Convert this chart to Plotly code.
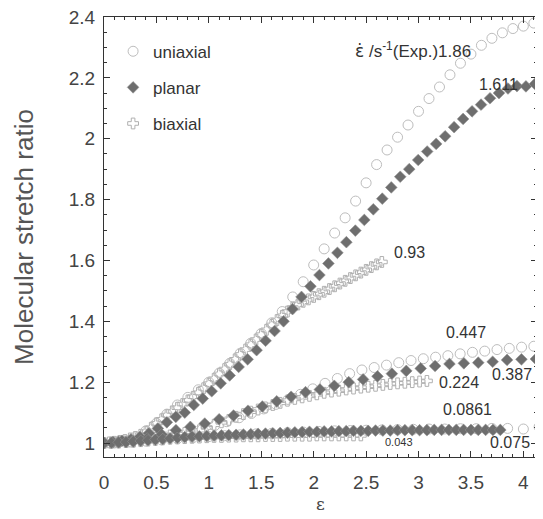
import plotly.graph_objects as go

# ---------------- data ----------------
# uniaxial (open circles)
uni_186_step = 0.1
uni_186_y = [1.000, 1.004, 1.010, 1.020, 1.040, 1.065, 1.095, 1.125, 1.150, 1.175,
             1.200, 1.230, 1.262, 1.295, 1.328, 1.360, 1.395, 1.432, 1.480, 1.530,
             1.585, 1.638, 1.690, 1.740, 1.795, 1.855, 1.915, 1.963, 2.005, 2.045,
             2.090, 2.132, 2.170, 2.210, 2.248, 2.278, 2.307, 2.330, 2.348, 2.362,
             2.370, 2.380]
uni_0447_step = 4.1 / 35
uni_0447_y = [1.000, 1.002, 1.005, 1.009, 1.014, 1.020, 1.027, 1.035, 1.045, 1.057,
              1.070, 1.083, 1.097, 1.112, 1.127, 1.143, 1.160, 1.178, 1.196, 1.212,
              1.228, 1.240, 1.248, 1.256, 1.264, 1.271, 1.277, 1.282, 1.287, 1.293,
              1.298, 1.302, 1.307, 1.311, 1.315, 1.318]
uni_00861_x0 = 0.1
uni_00861_step = 0.15
uni_00861_y = [1.000, 1.003, 1.006, 1.010, 1.014, 1.018, 1.021, 1.024, 1.027, 1.030,
               1.032, 1.034, 1.036, 1.038, 1.040, 1.041, 1.042, 1.043, 1.044, 1.045,
               1.046, 1.046, 1.047, 1.047, 1.048, 1.048, 1.046, 1.053]

# planar (filled diamonds)
pla_1611_step = 4.11 / 48
pla_1611_y = [1.000, 1.003, 1.007, 1.012, 1.020, 1.032, 1.048, 1.068, 1.086, 1.100,
              1.125, 1.146, 1.170, 1.196, 1.222, 1.250, 1.275, 1.305, 1.336, 1.368,
              1.400, 1.440, 1.480, 1.515, 1.552, 1.590, 1.625, 1.660, 1.698, 1.733,
              1.768, 1.803, 1.840, 1.875, 1.900, 1.930, 1.958, 1.983, 2.008, 2.038,
              2.065, 2.090, 2.112, 2.133, 2.150, 2.165, 2.173, 2.172, 2.180]
pla_0387_step = 4.119 / 30
pla_0387_y = [1.000, 1.003, 1.007, 1.015, 1.028, 1.042, 1.053, 1.064, 1.078, 1.090,
              1.106, 1.120, 1.137, 1.152, 1.167, 1.176, 1.188, 1.200, 1.209, 1.219,
              1.228, 1.237, 1.245, 1.253, 1.260, 1.262, 1.264, 1.267, 1.273, 1.275,
              1.276]
pla_0075_step = 0.07
pla_0075_y = [1.000, 1.001, 1.002, 1.003, 1.005, 1.007, 1.009, 1.011, 1.013, 1.015,
              1.017, 1.019, 1.021, 1.022, 1.023, 1.024, 1.025, 1.026, 1.027, 1.028,
              1.029, 1.030, 1.031, 1.032, 1.033, 1.034, 1.035, 1.036, 1.037, 1.037,
              1.038, 1.038, 1.039, 1.039, 1.040, 1.040, 1.040, 1.041, 1.041, 1.041,
              1.042, 1.042, 1.042, 1.042, 1.042, 1.043, 1.043, 1.043, 1.043, 1.043,
              1.043, 1.043, 1.043, 1.043, 1.043]

# biaxial (open crosses)
bia_093_step = 0.05
bia_093_y = [1.000, 1.002, 1.004, 1.007, 1.010, 1.015, 1.020, 1.027, 1.037, 1.050,
             1.065, 1.078, 1.092, 1.104, 1.116, 1.128, 1.140, 1.152, 1.165, 1.180,
             1.195, 1.211, 1.227, 1.243, 1.259, 1.275, 1.291, 1.307, 1.323, 1.340,
             1.356, 1.372, 1.388, 1.404, 1.418, 1.432, 1.445, 1.455, 1.464, 1.472,
             1.480, 1.489, 1.497, 1.506, 1.515, 1.524, 1.533, 1.542, 1.551, 1.560,
             1.569, 1.578, 1.587, 1.595]
bia_0224_step = 0.07
bia_0224_y = [1.000, 1.001, 1.002, 1.004, 1.006, 1.009, 1.013, 1.017, 1.021, 1.025,
              1.029, 1.033, 1.037, 1.042, 1.051, 1.060, 1.068, 1.076, 1.086, 1.095,
              1.103, 1.110, 1.117, 1.125, 1.132, 1.139, 1.145, 1.150, 1.155, 1.160,
              1.165, 1.169, 1.172, 1.176, 1.179, 1.182, 1.185, 1.188, 1.191, 1.194,
              1.196, 1.198, 1.200, 1.202, 1.204]
bia_0043_step = 0.07
bia_0043_y = [1.000, 1.001, 1.002, 1.003, 1.004, 1.006, 1.008, 1.010, 1.012, 1.014,
              1.015, 1.016, 1.017, 1.018, 1.019, 1.020, 1.020, 1.021, 1.021, 1.022,
              1.022, 1.022, 1.023, 1.023, 1.023, 1.024, 1.024, 1.024, 1.024, 1.025,
              1.025, 1.025, 1.025, 1.025, 1.025, 1.025]

labels = ["1.86", "1.611", "0.93", "0.447", "0.224", "0.387", "0.0861", "0.043", "0.075"]
label_x = [2.378, 3.56, 2.75, 3.24, 3.18, 3.686, 3.21, 2.665, 3.66]
label_y = [2.293, 2.178, 1.625, 1.362, 1.200, 1.224, 1.109, 1.003, 1.003]

x_ticks = [0, 0.5, 1, 1.5, 2, 2.5, 3, 3.5, 4]
x_ticktext = ["0", "0.5", "1", "1.5", "2", "2.5", "3", "3.5", "4"]
y_ticks = [1, 1.2, 1.4, 1.6, 1.8, 2, 2.2, 2.4]
y_ticktext = ["1", "1.2", "1.4", "1.6", "1.8", "2", "2.2", "2.4"]


def grid(y, step, x0=0.0):
    return [round(x0 + i * step, 4) for i in range(len(y))]


FONT = "Liberation Sans, Arial, sans-serif"

uni_style = dict(symbol="circle-open", size=10, color="#bdbdbd", line=dict(width=1, color="#bdbdbd"))
pla_style = dict(symbol="diamond", size=9, color="#6e6e6e", line=dict(width=0.6, color="#909090"))
bia_style = dict(symbol="cross-open", size=9, color="#b0b0b0", line=dict(width=1, color="#b0b0b0"))

fig = go.Figure()

series = [
    ("biaxial", bia_093_y, bia_093_step, 0.0, bia_style, True),
    ("biaxial", bia_0224_y, bia_0224_step, 0.0, bia_style, False),
    ("biaxial", bia_0043_y, bia_0043_step, 0.0, bia_style, False),
    ("uniaxial", uni_186_y, uni_186_step, 0.0, uni_style, True),
    ("uniaxial", uni_0447_y, uni_0447_step, 0.0, uni_style, False),
    ("uniaxial", uni_00861_y, uni_00861_step, uni_00861_x0, uni_style, False),
    ("planar", pla_1611_y, pla_1611_step, 0.0, pla_style, True),
    ("planar", pla_0387_y, pla_0387_step, 0.0, pla_style, False),
    ("planar", pla_0075_y, pla_0075_step, 0.0, pla_style, False),
]
legend_rank = {"uniaxial": 1, "planar": 2, "biaxial": 3}
for name, y, step, x0, style, show in series:
    fig.add_trace(go.Scatter(
        x=grid(y, step, x0), y=y, mode="markers", name=name,
        legendgroup=name, showlegend=show, legendrank=legend_rank[name],
        marker=style, cliponaxis=True,
    ))

# strain-rate labels
for i, t in enumerate(labels):
    if i == 0:
        txt = ("<span style='font-family:DejaVu Sans'>ε̇</span> /s<sup>-1</sup>(Exp.)" + t)
        size = 17
    else:
        txt = t
        size = 11 if t == "0.043" else 16
    fig.add_annotation(x=label_x[i], y=label_y[i], xref="x", yref="y", text=txt,
                       showarrow=False, xanchor="left", yanchor="middle",
                       font=dict(family=FONT, size=size, color="#333"))

axis_common = dict(
    showline=True, linecolor="#333", linewidth=1, mirror="ticks",
    ticks="inside", ticklen=6, tickcolor="#333", tickwidth=1,
    showgrid=False, zeroline=False, automargin=False,
    ticklabeloverflow="allow",
    tickfont=dict(family=FONT, size=19, color="#444"),
)

fig.update_xaxes(range=[0, 4.13], tickvals=x_ticks, ticktext=x_ticktext,
                 minor=dict(dtick=0.1, ticklen=3, ticks="inside", tickcolor="#333", showgrid=False),
                 title=dict(text="ε", font=dict(family="DejaVu Serif, serif", size=17, color="#444"), standoff=6),
                 ticklabelstandoff=8, **axis_common)
fig.update_yaxes(range=[0.954, 2.4], tickvals=y_ticks, ticktext=y_ticktext,
                 minor=dict(dtick=0.05, tick0=0, ticklen=3, ticks="inside", tickcolor="#333", showgrid=False),
                 title=dict(text="Molecular stretch ratio", font=dict(family=FONT, size=26, color="#555"), standoff=27),
                 ticklabelstandoff=4, **axis_common)

# page body adds an 8px offset, so the figure is sized/margined to compensate
fig.update_layout(
    width=535, height=511,
    margin=dict(l=96, r=6, t=9, b=62),
    paper_bgcolor="white", plot_bgcolor="white",
    showlegend=True,
    legend=dict(x=0.021, y=0.962, xanchor="left", yanchor="top",
                bgcolor="rgba(0,0,0,0)", borderwidth=0,
                font=dict(family=FONT, size=17, color="#333"),
                tracegroupgap=11, itemwidth=30, traceorder="grouped"),
)

fig.write_html("out.html")
